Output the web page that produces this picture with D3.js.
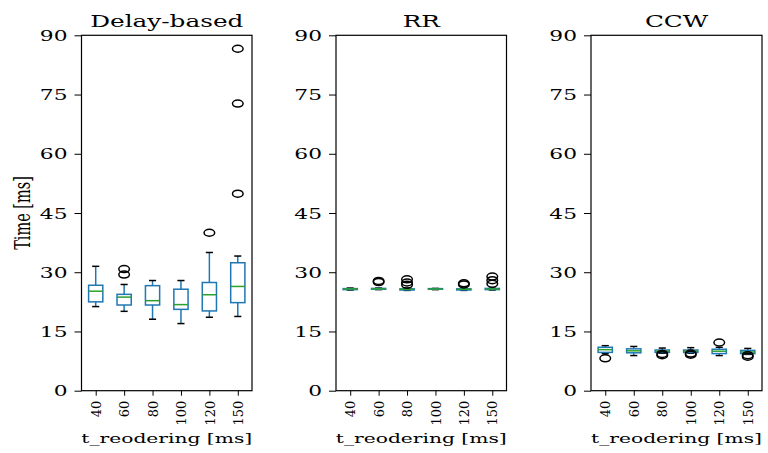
<!DOCTYPE html>
<html>
<head>
<meta charset="utf-8">
<script src="https://cdn.jsdelivr.net/npm/d3@7"></script>
<style>
  html, body { margin: 0; padding: 0; background: #fff; }
  svg { display: block; font-family: "DejaVu Serif", serif; }
</style>
</head>
<body>
<svg id="chart" width="768" height="453"></svg>
<script>
// Reordering timeout categories shared by all three panels
const categories = ["40", "60", "80", "100", "120", "150"];
const panelTitles = ["Delay-based", "RR", "CCW"];
const yTicks = [0, 15, 30, 45, 60, 75, 90];

// Box summaries per category: [lower whisker, Q1, median, Q3, upper whisker]
const delayStats = [
  [21.3, 22.5, 25.2, 26.7, 31.5],
  [20.1, 21.7, 23.7, 24.4, 26.9],
  [18.1, 21.7, 22.8, 26.6, 27.9],
  [17.0, 20.6, 21.8, 25.7, 27.9],
  [18.6, 20.2, 24.3, 27.4, 35.0],
  [18.8, 22.3, 26.4, 32.4, 34.1]
];
const delayFliers = [[], [29.4, 30.8], [], [], [40.0], [49.9, 72.7, 86.6]];

const rrStats = [
  [25.5, 25.6, 25.75, 25.85, 26.0],
  [25.6, 25.7, 25.8, 25.9, 26.0],
  [25.4, 25.5, 25.7, 25.8, 26.0],
  [25.6, 25.7, 25.75, 25.85, 25.9],
  [25.4, 25.5, 25.7, 25.8, 25.9],
  [25.5, 25.6, 25.75, 25.9, 26.0]
];
const rrFliers = [[], [27.5, 27.8], [26.8, 27.4, 28.2], [], [26.9, 27.2], [27.1, 28.0, 28.9]];

const ccwStats = [
  [9.4, 9.7, 10.4, 11.0, 11.4],
  [8.9, 9.6, 10.1, 10.6, 11.2],
  [9.5, 9.7, 10.0, 10.3, 10.8],
  [9.5, 9.7, 10.0, 10.3, 10.9],
  [8.9, 9.4, 10.0, 10.5, 11.0],
  [9.2, 9.4, 9.8, 10.2, 10.7]
];
const ccwFliers = [[8.2], [], [9.0, 9.3], [9.1, 9.4], [12.2], [8.6, 9.0]];

const panels = [
  { title: panelTitles[0], stats: delayStats, fliers: delayFliers, left: 81.5, right: 252 },
  { title: panelTitles[1], stats: rrStats, fliers: rrFliers, left: 336, right: 506.5 },
  { title: panelTitles[2], stats: ccwStats, fliers: ccwFliers, left: 591, right: 762 }
];

const plotTop = 35.3, plotBottom = 390.7;
const sx = 1.5;            // horizontal text stretch
const boxColor = "#1f77b4", medianColor = "#2ca02c";
const lw = 1.5;

const svg = d3.select("#chart");
const y = d3.scaleLinear().domain([0, 90]).range([plotBottom, plotTop]);

panels.forEach(p => {
  const x = d3.scaleLinear().domain([0.5, 6.5]).range([p.left, p.right]);
  const step = x(2) - x(1);
  const bw = step * 0.5, cw = step * 0.25;
  const g = svg.append("g");

  // y axis
  const ya = g.append("g")
    .attr("transform", `translate(${p.left},0)`)
    .call(d3.axisLeft(y).tickValues(yTicks).tickSize(7).tickSizeOuter(0));
  ya.select(".domain").remove();
  ya.selectAll("line").attr("stroke", "#000").attr("stroke-width", 1);
  ya.selectAll("text")
    .attr("x", -14 / sx)
    .attr("dy", "0.36em")
    .attr("transform", `scale(${sx},1)`)
    .style("font-family", "DejaVu Serif")
    .style("font-size", "14.5px")
    .attr("fill", "#000");

  // x axis
  const xa = g.append("g")
    .attr("transform", `translate(0,${plotBottom})`)
    .call(d3.axisBottom(x).tickValues(d3.range(1, categories.length + 1))
      .tickFormat((d, i) => categories[i]).tickSize(5).tickSizeOuter(0));
  xa.select(".domain").remove();
  xa.selectAll("line").attr("stroke", "#000").attr("stroke-width", 1);
  xa.selectAll("text")
    .attr("x", -10).attr("y", 0).attr("dy", "0.36em")
    .attr("transform", "rotate(-90)")
    .attr("text-anchor", "end")
    .style("font-family", "DejaVu Serif")
    .style("font-size", "13px")
    .attr("fill", "#000");

  // boxes
  p.stats.forEach((s, i) => {
    const cx = x(i + 1);
    const [lo, q1, med, q3, hi] = s;
    const b = g.append("g");
    b.append("line").attr("x1", cx).attr("x2", cx).attr("y1", y(q1)).attr("y2", y(lo))
      .attr("stroke", boxColor).attr("stroke-width", lw);
    b.append("line").attr("x1", cx).attr("x2", cx).attr("y1", y(q3)).attr("y2", y(hi))
      .attr("stroke", boxColor).attr("stroke-width", lw);
    [lo, hi].forEach(v => b.append("line")
      .attr("x1", cx - cw / 2).attr("x2", cx + cw / 2).attr("y1", y(v)).attr("y2", y(v))
      .attr("stroke", "#000").attr("stroke-width", lw));
    b.append("rect").attr("x", cx - bw / 2).attr("width", bw)
      .attr("y", y(q3)).attr("height", Math.max(0, y(q1) - y(q3)))
      .attr("fill", "none").attr("stroke", boxColor).attr("stroke-width", lw);
    b.append("line").attr("x1", cx - bw / 2).attr("x2", cx + bw / 2)
      .attr("y1", y(med)).attr("y2", y(med))
      .attr("stroke", medianColor).attr("stroke-width", lw);
    p.fliers[i].forEach(v => b.append("ellipse")
      .attr("cx", cx).attr("cy", y(v)).attr("rx", 5.3).attr("ry", 3.5)
      .attr("fill", "none").attr("stroke", "#000").attr("stroke-width", 1.5));
  });

  // frame
  g.append("rect").attr("x", p.left).attr("y", plotTop)
    .attr("width", p.right - p.left).attr("height", plotBottom - plotTop)
    .attr("fill", "none").attr("stroke", "#000").attr("stroke-width", 1.2);

  const mid = (p.left + p.right) / 2;
  g.append("text")
    .attr("transform", `translate(${mid},27) scale(${sx},1)`)
    .attr("text-anchor", "middle")
    .style("font-size", "16.5px")
    .text(p.title);
  g.append("text")
    .attr("transform", `translate(${mid},443) scale(${sx},1)`)
    .attr("text-anchor", "middle")
    .style("font-size", "13.5px")
    .text("t_reodering [ms]");
});

svg.append("text")
  .attr("transform", `translate(22.5,${(plotTop + plotBottom) / 2}) scale(${sx},1) rotate(-90)`)
  .attr("text-anchor", "middle")
  .attr("dominant-baseline", "central")
  .style("font-size", "14.5px")
  .text("Time [ms]");
</script>
</body>
</html>
